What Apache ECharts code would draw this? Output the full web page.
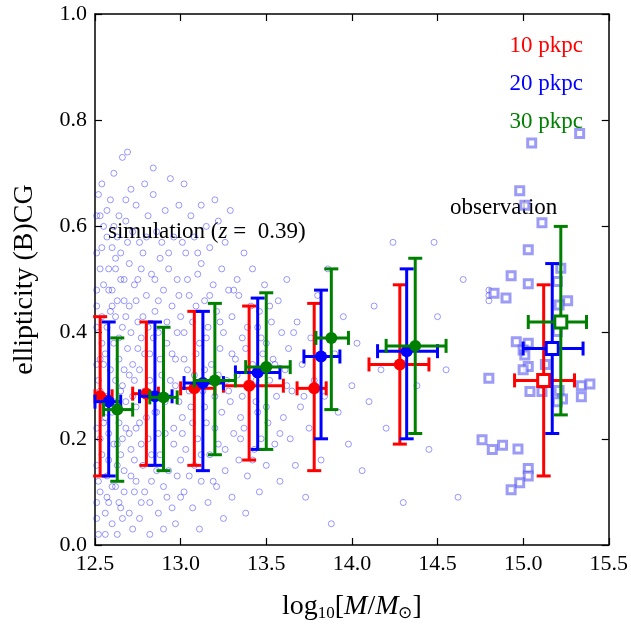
<!DOCTYPE html>
<html><head><meta charset="utf-8">
<script src="https://cdn.jsdelivr.net/npm/echarts@6/dist/echarts.min.js"></script>
<style>html,body{margin:0;padding:0;background:#fff}#chart{width:631px;height:631px}</style>
</head><body><div id="chart"></div>
<script>
// simulated haloes (a readable sample of the cloud)
const simPoints = [
[12.51,0.05],[12.52,0.12],[12.53,0.2],[12.52,0.31],[12.54,0.38],[12.51,0.45],[12.53,0.52],[12.55,0.6],[12.52,0.66],[12.56,0.02],
[12.57,0.09],[12.58,0.16],[12.56,0.24],[12.59,0.33],[12.57,0.41],[12.58,0.48],[12.6,0.56],[12.57,0.63],[12.61,0.7],[12.6,0.04],
[12.62,0.11],[12.63,0.19],[12.61,0.27],[12.64,0.35],[12.62,0.43],[12.65,0.5],[12.63,0.58],[12.66,0.73],[12.65,0.07],[12.67,0.14],
[12.68,0.22],[12.66,0.3],[12.69,0.37],[12.67,0.46],[12.7,0.53],[12.68,0.61],[12.71,0.67],[12.69,0.74],[12.72,0.03],[12.73,0.1],
[12.71,0.18],[12.74,0.26],[12.72,0.34],[12.75,0.42],[12.73,0.49],[12.76,0.57],[12.74,0.64],[12.77,0.08],[12.78,0.15],[12.76,0.23],
[12.79,0.29],[12.77,0.39],[12.8,0.47],[12.78,0.55],[12.81,0.62],[12.79,0.68],[12.82,0.02],[12.83,0.12],[12.81,0.2],[12.84,0.28],
[12.82,0.36],[12.85,0.44],[12.83,0.51],[12.86,0.59],[12.84,0.66],[12.87,0.06],[12.88,0.17],[12.86,0.25],[12.89,0.32],[12.87,0.4],
[12.9,0.48],[12.88,0.54],[12.91,0.63],[12.92,0.09],[12.93,0.14],[12.91,0.21],[12.94,0.31],[12.92,0.38],[12.95,0.45],[12.93,0.52],
[12.96,0.58],[12.94,0.69],[12.97,0.04],[12.98,0.13],[12.96,0.22],[12.99,0.27],[12.97,0.35],[13.0,0.43],[12.98,0.5],[13.01,0.57],
[12.99,0.64],[13.02,0.1],[13.03,0.18],[13.01,0.24],[13.04,0.33],[13.02,0.4],[13.05,0.47],[13.03,0.55],[13.06,0.62],[13.07,0.07],
[13.08,0.15],[13.06,0.26],[13.09,0.36],[13.07,0.42],[13.1,0.51],[13.08,0.58],[13.11,0.03],[13.12,0.12],[13.1,0.2],[13.13,0.29],
[13.11,0.38],[13.14,0.46],[13.12,0.53],[13.15,0.6],[13.16,0.08],[13.17,0.17],[13.15,0.23],[13.18,0.34],[13.16,0.41],[13.19,0.49],
[13.17,0.56],[13.2,0.65],[13.21,0.11],[13.22,0.19],[13.2,0.28],[13.23,0.37],[13.21,0.44],[13.24,0.52],[13.25,0.05],[13.26,0.14],
[13.24,0.25],[13.27,0.31],[13.25,0.4],[13.28,0.48],[13.26,0.57],[13.29,0.63],[13.3,0.09],[13.31,0.21],[13.29,0.27],[13.32,0.35],
[13.3,0.43],[13.33,0.5],[13.34,0.16],[13.35,0.24],[13.33,0.32],[13.36,0.39],[13.34,0.47],[13.37,0.55],[13.38,0.06],[13.39,0.13],
[13.37,0.22],[13.4,0.3],[13.38,0.37],[13.41,0.45],[13.42,0.52],[13.43,0.18],[13.44,0.27],[13.42,0.34],[13.45,0.41],[13.46,0.1],
[13.47,0.2],[13.45,0.25],[13.48,0.36],[13.46,0.44],[13.49,0.49],[13.5,0.15],[13.51,0.23],[13.52,0.31],[13.5,0.38],[13.53,0.42],
[13.55,0.19],[13.56,0.28],[13.54,0.35],[13.57,0.46],[13.58,0.12],[13.6,0.24],[13.61,0.33],[13.59,0.4],[13.62,0.5],[13.64,0.2],
[13.65,0.29],[13.63,0.37],[13.67,0.15],[13.68,0.42],[13.7,0.26],[13.71,0.34],[13.73,0.09],[13.75,0.22],[13.76,0.39],[13.78,0.31],
[13.8,0.47],[13.82,0.16],[13.84,0.28],[13.86,0.52],[13.88,0.04],[13.9,0.36],[13.92,0.25],[13.95,0.43],[13.98,0.19],[14.0,0.3],
[14.03,0.38],[14.06,0.14],[14.1,0.27],[14.13,0.45],[14.17,0.33],[14.2,0.22],[14.24,0.57],[14.3,0.08],[14.38,0.3],[14.45,0.18],
[14.5,0.43],[14.55,0.33],[14.62,0.09],[14.65,0.5],[14.48,0.57],[14.8,0.48],[14.8,0.47],[14.8,0.46],
[13.12,0.64],[12.84,0.71],[13.02,0.68],[13.22,0.61],[12.7,0.32],[12.6,0.45],[12.55,0.27],[12.65,0.17],[12.75,0.5],[12.95,0.36],
[12.85,0.25],[13.05,0.29],[12.58,0.08],[12.62,0.52],[12.74,0.12],[12.9,0.03],[13.0,0.16],[13.14,0.33],[12.53,0.35],[12.66,0.41],
[12.51,0.08],[12.51,0.15],[12.51,0.22],[12.51,0.28],[12.51,0.34],[12.51,0.41],[12.51,0.48],[12.51,0.55],[12.51,0.62],[12.52,0.02],
[12.53,0.1],[12.54,0.17],[12.55,0.23],[12.53,0.29],[12.55,0.34],[12.54,0.43],[12.55,0.49],[12.54,0.56],[12.53,0.62],[12.54,0.68],
[12.56,0.06],[12.57,0.13],[12.58,0.21],[12.57,0.28],[12.56,0.36],[12.59,0.44],[12.58,0.52],[12.57,0.58],[12.59,0.65],[12.6,0.11],
[12.61,0.19],[12.6,0.25],[12.62,0.31],[12.61,0.38],[12.6,0.48],[12.62,0.54],[12.61,0.6],[12.63,0.02],[12.64,0.08],[12.63,0.15],
[12.64,0.23],[12.65,0.29],[12.64,0.39],[12.63,0.46],[12.65,0.55],[12.64,0.62],[12.66,0.05],[12.67,0.1],[12.66,0.2],[12.68,0.27],
[12.67,0.33],[12.68,0.43],[12.67,0.5],[12.69,0.57],[12.68,0.65],[12.7,0.06],[12.71,0.13],[12.7,0.21],[12.72,0.28],[12.71,0.4],
[12.7,0.45],[12.72,0.59],[12.73,0.16],[12.74,0.22],[12.73,0.31],[12.75,0.37],[12.74,0.46],[12.76,0.05],[12.77,0.19],[12.76,0.33],
[12.78,0.43],[12.77,0.52],[12.79,0.1],[12.8,0.24],[12.79,0.36],[12.81,0.41],[12.8,0.58],[12.82,0.08],[12.83,0.17],[12.82,0.31],
[12.84,0.39],[12.85,0.5],[12.86,0.14],[12.87,0.21],[12.88,0.35],[12.87,0.46],[12.89,0.57],[12.9,0.11],[12.91,0.27],[12.92,0.42],
[12.93,0.55],[12.95,0.07],[12.96,0.19],[12.97,0.3],[12.98,0.4],[12.99,0.47],[13.0,0.09],[13.01,0.21],[13.02,0.35],[13.04,0.5],
[13.05,0.13],[13.07,0.23],[13.08,0.32],[13.09,0.45],[13.1,0.55],[13.12,0.17],[13.14,0.26],[13.15,0.39],[13.17,0.47],[13.19,0.12],
[13.2,0.22],[13.22,0.32],[13.23,0.42],[13.26,0.18],[13.28,0.29],[13.3,0.36],[13.31,0.48],[13.35,0.2],[13.36,0.28],[13.39,0.41],
[13.42,0.16],[13.44,0.31],[13.47,0.39],[13.5,0.26],[13.52,0.45],[13.55,0.34],[13.58,0.21],[13.62,0.3],[13.66,0.4],[13.72,0.28]
];
const obsPoints = [
[15.33,0.775],[15.05,0.757],[14.98,0.667],[15.01,0.64],[15.11,0.607],[15.03,0.556],[15.22,0.521],[14.93,0.507],[15.03,0.492],[15.2,0.496],
[14.83,0.474],[14.9,0.465],[15.26,0.46],[15.21,0.452],[15.2,0.402],[14.96,0.383],[15.03,0.38],[15.0,0.367],[15.01,0.358],[15.13,0.34],
[15.03,0.336],[15.0,0.33],[14.8,0.314],[15.34,0.3],[15.39,0.303],[15.21,0.291],[15.04,0.289],[15.11,0.289],[15.34,0.279],[15.23,0.275],
[15.2,0.27],[14.76,0.198],[14.82,0.18],[14.88,0.188],[14.97,0.181],[15.03,0.144],[15.03,0.13],[14.98,0.117],[14.93,0.104]
];
// binned medians: [x, y, xlo, xhi, ylo, yhi]; last entry in each is the observation
const bins10 = [[12.53,0.28,12.5,12.6,0.13,0.43],[12.8,0.285,12.72,12.87,0.15,0.42],[13.08,0.295,13.0,13.2,0.15,0.44],[13.4,0.3,13.25,13.6,0.16,0.45],[13.78,0.295,13.68,13.85,0.14,0.455],[14.28,0.34,14.1,14.45,0.19,0.49],[15.12,0.31,14.95,15.3,0.13,0.49]];
const bins20 = [[12.58,0.27,12.5,12.65,0.13,0.42],[12.85,0.28,12.76,12.95,0.15,0.42],[13.13,0.305,13.02,13.25,0.14,0.44],[13.45,0.325,13.32,13.58,0.18,0.465],[13.82,0.355,13.72,13.93,0.2,0.48],[14.32,0.365,14.15,14.5,0.2,0.52],[15.17,0.37,15.0,15.35,0.21,0.53]];
const bins30 = [[12.63,0.255,12.55,12.72,0.12,0.39],[12.9,0.278,12.82,12.98,0.14,0.41],[13.2,0.31,13.08,13.32,0.17,0.455],[13.5,0.335,13.38,13.64,0.18,0.475],[13.88,0.39,13.79,13.98,0.255,0.52],[14.37,0.375,14.2,14.55,0.21,0.54],[15.22,0.42,15.03,15.37,0.245,0.6]];
const labels = ['10 pkpc','20 pkpc','30 pkpc'];
const colors = ['#ff0000','#0000ff','#008000'];

const serif = 'Liberation Serif';
const chart = echarts.init(document.getElementById('chart'));

function errSeries(bins, color) {
  return {
    type: 'custom', data: bins, z: 5,
    renderItem: function (params, api) {
      const c = api.coord([api.value(0), api.value(1)]);
      const xl = api.coord([api.value(2), api.value(1)]);
      const xh = api.coord([api.value(3), api.value(1)]);
      const yl = api.coord([api.value(0), api.value(4)]);
      const yh = api.coord([api.value(0), api.value(5)]);
      const st = {stroke: color, lineWidth: 3};
      const cap = 7;
      const kids = [
        {type: 'line', shape: {x1: xl[0], y1: c[1], x2: xh[0], y2: c[1]}, style: st},
        {type: 'line', shape: {x1: c[0], y1: yl[1], x2: c[0], y2: yh[1]}, style: st},
        {type: 'line', shape: {x1: xl[0], y1: c[1]-cap, x2: xl[0], y2: c[1]+cap}, style: st},
        {type: 'line', shape: {x1: xh[0], y1: c[1]-cap, x2: xh[0], y2: c[1]+cap}, style: st},
        {type: 'line', shape: {x1: c[0]-cap, y1: yl[1], x2: c[0]+cap, y2: yl[1]}, style: st},
        {type: 'line', shape: {x1: c[0]-cap, y1: yh[1], x2: c[0]+cap, y2: yh[1]}, style: st}
      ];
      if (params.dataIndex === bins.length - 1) {
        kids.push({type: 'rect', shape: {x: c[0]-6, y: c[1]-6, width: 12, height: 12}, style: {fill: '#fff', stroke: color, lineWidth: 3}});
      } else {
        kids.push({type: 'circle', shape: {cx: c[0], cy: c[1], r: 6}, style: {fill: color}});
      }
      return {type: 'group', children: kids};
    }
  };
}

const tickStyle = {fontFamily: serif, fontSize: 22, color: '#000'};
const axisBase = {
  axisLine: {show: true, onZero: false, lineStyle: {color: '#000', width: 1.5}},
  axisTick: {show: true, inside: true, length: 7, lineStyle: {color: '#000', width: 1.2}},
  splitLine: {show: false}
};

chart.setOption({
  animation: false,
  grid: {left: 95, right: 17, top: 14, bottom: 86},
  xAxis: [
    Object.assign({type: 'value', min: 12.5, max: 15.5, interval: 0.5,
      axisLabel: Object.assign({margin: 8, formatter: v => v.toFixed(1)}, tickStyle),
      name: '{n|log}{s|10}{n|[}{i|M}{n|/}{i|M}{s|⊙}{n|]}', nameLocation: 'middle', nameGap: 46,
      nameTextStyle: {rich: {n: {fontFamily: serif, fontSize: 28}, i: {fontFamily: serif, fontSize: 28, fontStyle: 'italic'}, s: {fontFamily: serif, fontSize: 17, padding: [14, 0, 0, 0]}}}
    }, axisBase),
    Object.assign({type: 'value', position: 'top', min: 12.5, max: 15.5, interval: 0.5, axisLabel: {show: false}}, axisBase)
  ],
  yAxis: [
    Object.assign({type: 'value', min: 0, max: 1, interval: 0.2,
      axisLabel: Object.assign({margin: 8, formatter: v => v.toFixed(1)}, tickStyle),
      name: 'ellipticity (B)CG', nameLocation: 'middle', nameGap: 56,
      nameTextStyle: {fontFamily: serif, fontSize: 28, color: '#000'}
    }, axisBase),
    Object.assign({type: 'value', position: 'right', min: 0, max: 1, interval: 0.2, axisLabel: {show: false}}, axisBase)
  ],
  series: [
    {type: 'scatter', data: simPoints, symbol: 'circle', symbolSize: 6,
      itemStyle: {color: 'rgba(255,255,255,0)', borderColor: 'rgba(0,0,255,0.5)', borderWidth: 1}},
    {type: 'scatter', data: obsPoints, symbol: 'rect', symbolSize: 8,
      itemStyle: {color: '#fff', borderColor: 'rgba(90,90,240,0.75)', borderWidth: 3}},
    errSeries(bins10, colors[0]), errSeries(bins20, colors[1]), errSeries(bins30, colors[2])
  ],
  graphic: [
    {type: 'text', right: 48, top: 34, style: {text: labels[0], font: '23px "Liberation Serif"', fill: colors[0]}},
    {type: 'text', right: 48, top: 72, style: {text: labels[1], font: '23px "Liberation Serif"', fill: colors[1]}},
    {type: 'text', right: 48, top: 110, style: {text: labels[2], font: '23px "Liberation Serif"', fill: colors[2]}},
    {type: 'text', left: 450, top: 196, style: {text: 'observation', font: '23px "Liberation Serif"', fill: '#000'}},
    {type: 'text', left: 108, top: 220, style: {
      text: '{n|simulation (}{i|z}{n| =  0.39)}',
      rich: {n: {fontFamily: serif, fontSize: 23, fill: '#000'}, i: {fontFamily: serif, fontSize: 23, fontStyle: 'italic', fill: '#000'}}}}
  ]
});
</script></body></html>
